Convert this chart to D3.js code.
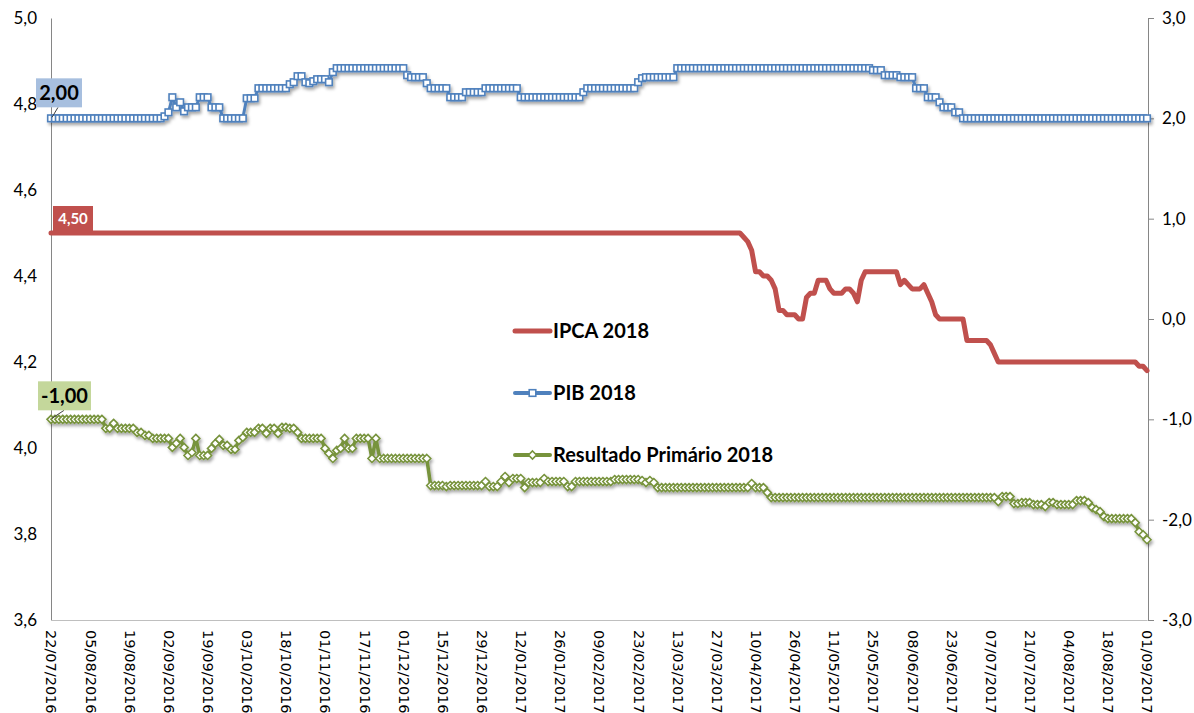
<!DOCTYPE html>
<html><head><meta charset="utf-8">
<script src="https://cdn.jsdelivr.net/npm/d3@7"></script>
<style>body{margin:0;background:#fff;} svg{display:block;font-family:Lato,"Open Sans",sans-serif}</style>
</head><body><svg id="c" width="1194" height="713"></svg>
<script>
const tickLabels = ["22/07/2016","05/08/2016","19/08/2016","02/09/2016","19/09/2016","03/10/2016","18/10/2016","01/11/2016","17/11/2016","01/12/2016","15/12/2016","29/12/2016","12/01/2017","26/01/2017","09/02/2017","23/02/2017","13/03/2017","27/03/2017","10/04/2017","26/04/2017","11/05/2017","25/05/2017","08/06/2017","23/06/2017","07/07/2017","21/07/2017","04/08/2017","18/08/2017","01/09/2017"];
const seriesNames = ["IPCA 2018","PIB 2018","Resultado Primário 2018"];
const leftTicks = [3.6,3.8,4.0,4.2,4.4,4.6,4.8,5.0];
const rightTicks = [-3,-2,-1,0,1,2,3];

const ipca = [
4.50,4.50,4.50,4.50,4.50,4.50,4.50,4.50,4.50,4.50,
4.50,4.50,4.50,4.50,4.50,4.50,4.50,4.50,4.50,4.50,
4.50,4.50,4.50,4.50,4.50,4.50,4.50,4.50,4.50,4.50,
4.50,4.50,4.50,4.50,4.50,4.50,4.50,4.50,4.50,4.50,
4.50,4.50,4.50,4.50,4.50,4.50,4.50,4.50,4.50,4.50,
4.50,4.50,4.50,4.50,4.50,4.50,4.50,4.50,4.50,4.50,
4.50,4.50,4.50,4.50,4.50,4.50,4.50,4.50,4.50,4.50,
4.50,4.50,4.50,4.50,4.50,4.50,4.50,4.50,4.50,4.50,
4.50,4.50,4.50,4.50,4.50,4.50,4.50,4.50,4.50,4.50,
4.50,4.50,4.50,4.50,4.50,4.50,4.50,4.50,4.50,4.50,
4.50,4.50,4.50,4.50,4.50,4.50,4.50,4.50,4.50,4.50,
4.50,4.50,4.50,4.50,4.50,4.50,4.50,4.50,4.50,4.50,
4.50,4.50,4.50,4.50,4.50,4.50,4.50,4.50,4.50,4.50,
4.50,4.50,4.50,4.50,4.50,4.50,4.50,4.50,4.50,4.50,
4.50,4.50,4.50,4.50,4.50,4.50,4.50,4.50,4.50,4.50,
4.50,4.50,4.50,4.50,4.50,4.50,4.50,4.50,4.50,4.50,
4.50,4.50,4.50,4.50,4.50,4.50,4.50,4.50,4.50,4.50,
4.50,4.50,4.50,4.50,4.50,4.50,4.50,4.49,4.48,4.46,
4.41,4.41,4.40,4.40,4.39,4.37,4.32,4.32,4.31,4.31,
4.31,4.30,4.30,4.35,4.36,4.36,4.39,4.39,4.39,4.37,
4.36,4.36,4.36,4.37,4.37,4.36,4.34,4.39,4.41,4.41,
4.41,4.41,4.41,4.41,4.41,4.41,4.41,4.38,4.39,4.38,
4.37,4.37,4.37,4.38,4.36,4.34,4.31,4.30,4.30,4.30,
4.30,4.30,4.30,4.30,4.25,4.25,4.25,4.25,4.25,4.25,
4.24,4.22,4.20,4.20,4.20,4.20,4.20,4.20,4.20,4.20,
4.20,4.20,4.20,4.20,4.20,4.20,4.20,4.20,4.20,4.20,
4.20,4.20,4.20,4.20,4.20,4.20,4.20,4.20,4.20,4.20,
4.20,4.20,4.20,4.20,4.20,4.20,4.20,4.20,4.19,4.19,
4.18];

const pib = [
2.00,2.00,2.00,2.00,2.00,2.00,2.00,2.00,2.00,2.00,
2.00,2.00,2.00,2.00,2.00,2.00,2.00,2.00,2.00,2.00,
2.00,2.00,2.00,2.00,2.00,2.00,2.00,2.00,2.00,2.02,
2.06,2.21,2.11,2.16,2.07,2.11,2.11,2.11,2.21,2.21,
2.21,2.11,2.11,2.11,2.00,2.00,2.00,2.00,2.00,2.00,
2.20,2.20,2.20,2.30,2.30,2.30,2.30,2.30,2.30,2.30,
2.30,2.34,2.36,2.42,2.42,2.36,2.35,2.37,2.39,2.39,
2.39,2.36,2.46,2.50,2.50,2.50,2.50,2.50,2.50,2.50,
2.50,2.50,2.50,2.50,2.50,2.50,2.50,2.50,2.50,2.50,
2.50,2.43,2.41,2.41,2.41,2.41,2.35,2.30,2.30,2.30,
2.30,2.30,2.21,2.21,2.21,2.21,2.26,2.26,2.26,2.26,
2.26,2.30,2.30,2.30,2.30,2.30,2.30,2.30,2.30,2.30,
2.21,2.21,2.21,2.21,2.21,2.21,2.21,2.21,2.21,2.21,
2.21,2.21,2.21,2.21,2.21,2.21,2.26,2.30,2.30,2.30,
2.30,2.30,2.30,2.30,2.30,2.30,2.30,2.30,2.30,2.30,
2.36,2.40,2.41,2.41,2.41,2.41,2.41,2.41,2.41,2.41,
2.50,2.50,2.50,2.50,2.50,2.50,2.50,2.50,2.50,2.50,
2.50,2.50,2.50,2.50,2.50,2.50,2.50,2.50,2.50,2.50,
2.50,2.50,2.50,2.50,2.50,2.50,2.50,2.50,2.50,2.50,
2.50,2.50,2.50,2.50,2.50,2.50,2.50,2.50,2.50,2.50,
2.50,2.50,2.50,2.50,2.50,2.50,2.50,2.50,2.50,2.50,
2.48,2.48,2.48,2.43,2.43,2.43,2.43,2.41,2.41,2.41,
2.41,2.30,2.30,2.30,2.21,2.21,2.21,2.16,2.11,2.11,
2.11,2.06,2.06,2.00,2.00,2.00,2.00,2.00,2.00,2.00,
2.00,2.00,2.00,2.00,2.00,2.00,2.00,2.00,2.00,2.00,
2.00,2.00,2.00,2.00,2.00,2.00,2.00,2.00,2.00,2.00,
2.00,2.00,2.00,2.00,2.00,2.00,2.00,2.00,2.00,2.00,
2.00,2.00,2.00,2.00,2.00,2.00,2.00,2.00,2.00,2.00,
2.00];

const primario = [
-1.00,-1.00,-1.00,-1.00,-1.00,-1.00,-1.00,-1.00,-1.00,-1.00,
-1.00,-1.00,-1.00,-1.00,-1.09,-1.09,-1.04,-1.09,-1.09,-1.09,
-1.09,-1.09,-1.13,-1.13,-1.16,-1.16,-1.19,-1.19,-1.19,-1.19,
-1.19,-1.28,-1.24,-1.19,-1.28,-1.36,-1.33,-1.19,-1.36,-1.36,
-1.36,-1.29,-1.24,-1.20,-1.26,-1.26,-1.30,-1.30,-1.21,-1.18,
-1.13,-1.13,-1.13,-1.09,-1.09,-1.14,-1.09,-1.09,-1.14,-1.08,
-1.08,-1.09,-1.09,-1.13,-1.19,-1.19,-1.19,-1.19,-1.19,-1.19,
-1.29,-1.34,-1.39,-1.31,-1.29,-1.19,-1.29,-1.29,-1.19,-1.19,
-1.19,-1.19,-1.39,-1.19,-1.39,-1.39,-1.39,-1.39,-1.39,-1.39,
-1.39,-1.39,-1.39,-1.39,-1.39,-1.39,-1.39,-1.66,-1.66,-1.66,
-1.66,-1.67,-1.66,-1.66,-1.66,-1.66,-1.66,-1.66,-1.66,-1.66,
-1.66,-1.62,-1.67,-1.67,-1.67,-1.62,-1.57,-1.63,-1.59,-1.59,
-1.59,-1.68,-1.63,-1.63,-1.63,-1.63,-1.59,-1.62,-1.62,-1.62,
-1.62,-1.62,-1.67,-1.67,-1.62,-1.62,-1.62,-1.62,-1.62,-1.62,
-1.62,-1.62,-1.62,-1.62,-1.60,-1.60,-1.60,-1.60,-1.60,-1.60,
-1.60,-1.61,-1.63,-1.61,-1.63,-1.68,-1.68,-1.68,-1.68,-1.68,
-1.68,-1.68,-1.68,-1.68,-1.68,-1.68,-1.68,-1.68,-1.68,-1.68,
-1.68,-1.68,-1.68,-1.68,-1.68,-1.68,-1.68,-1.68,-1.68,-1.64,
-1.68,-1.68,-1.68,-1.73,-1.78,-1.78,-1.78,-1.78,-1.78,-1.78,
-1.78,-1.78,-1.78,-1.78,-1.78,-1.78,-1.78,-1.78,-1.78,-1.78,
-1.78,-1.78,-1.78,-1.78,-1.78,-1.78,-1.78,-1.78,-1.78,-1.78,
-1.78,-1.78,-1.78,-1.78,-1.78,-1.78,-1.78,-1.78,-1.78,-1.78,
-1.78,-1.78,-1.78,-1.78,-1.78,-1.78,-1.78,-1.78,-1.78,-1.78,
-1.78,-1.78,-1.78,-1.78,-1.78,-1.78,-1.78,-1.78,-1.78,-1.78,
-1.78,-1.78,-1.82,-1.77,-1.77,-1.77,-1.84,-1.84,-1.83,-1.83,
-1.83,-1.85,-1.85,-1.85,-1.87,-1.83,-1.83,-1.85,-1.85,-1.85,
-1.85,-1.85,-1.81,-1.81,-1.81,-1.83,-1.88,-1.90,-1.92,-1.97,
-1.99,-1.99,-1.99,-1.99,-1.99,-1.99,-1.99,-2.03,-2.12,-2.15,
-2.20];

const colors = {ipca:"#c0504d", pib:"#4f81bd", prim:"#77933c"};
const svg = d3.select("#c");
const defs = svg.append("defs");
const f = defs.append("filter").attr("id","sh").attr("x","-5%").attr("y","-20%").attr("width","110%").attr("height","160%");
f.append("feDropShadow").attr("dx",1.5).attr("dy",2.5).attr("stdDeviation",1.5).attr("flood-color","#000").attr("flood-opacity",0.35);

const n = ipca.length;
const x = d3.scaleLinear().domain([0, n-1]).range([51, 1147]);
const yL = d3.scaleLinear().domain([3.6, 5.0]).range([620, 18]);
const yR = d3.scaleLinear().domain([-3, 3]).range([620, 18]);
const comma = (v, d) => (v < 0 ? "-" : "") + Math.abs(v).toFixed(d).replace(".", ",");

// left axis
const gL = svg.append("g").attr("transform","translate(51,0)")
  .call(d3.axisLeft(yL).tickValues(leftTicks).tickSize(0).tickPadding(14).tickFormat(d=>comma(d,1)));
gL.select(".domain").attr("stroke","#868686");
gL.selectAll("text").attr("font-size",17).attr("fill","#000").style("font-family","Lato");

// right axis
const gR = svg.append("g").attr("transform","translate(1148,0)")
  .call(d3.axisRight(yR).tickValues(rightTicks).tickSize(6).tickPadding(8).tickFormat(d=>comma(d,1)));
gR.select(".domain").attr("stroke","#868686");
gR.selectAll("line").attr("stroke","#868686");
gR.selectAll("text").attr("font-size",17).attr("fill","#000").style("font-family","Lato");

// bottom axis
const tickIdx = tickLabels.map((_, k) => k * 10);
const gB = svg.append("g").attr("transform","translate(0,620)")
  .call(d3.axisBottom(x).tickValues(tickIdx).tickSize(0).tickFormat((d,k)=>tickLabels[k]));
gB.select(".domain").attr("stroke","#bfbfbf");
gB.selectAll("text").attr("transform","rotate(90)").attr("x",10).attr("y",0).attr("dy","0.35em")
  .attr("text-anchor","start").attr("font-size",14.5).attr("fill","#000").style("font-family","'DejaVu Sans'");

const idx = d3.range(n);

// IPCA
svg.append("path").datum(idx).attr("fill","none").attr("stroke",colors.ipca).attr("stroke-width",5)
  .attr("stroke-linejoin","round").attr("stroke-linecap","round")
  .attr("d", d3.line().x(i=>x(i)).y(i=>yL(ipca[i])));

// PIB
const gP = svg.append("g").attr("filter","url(#sh)");
gP.append("path").datum(idx).attr("fill","none").attr("stroke",colors.pib).attr("stroke-width",3)
  .attr("stroke-linejoin","round").attr("d", d3.line().x(i=>x(i)).y(i=>yR(pib[i])));
gP.selectAll("rect.m").data(idx).join("rect").attr("class","m")
  .attr("x",i=>x(i)-3.3).attr("y",i=>yR(pib[i])-3.3).attr("width",6.6).attr("height",6.6)
  .attr("fill","#fff").attr("stroke",colors.pib).attr("stroke-width",1.6);

// Primario
const gG = svg.append("g").attr("filter","url(#sh)");
gG.append("path").datum(idx).attr("fill","none").attr("stroke",colors.prim).attr("stroke-width",3.5)
  .attr("stroke-linejoin","round").attr("d", d3.line().x(i=>x(i)).y(i=>yR(primario[i])));
const dia = "M0,-4L4,0L0,4L-4,0Z";
gG.selectAll("path.m").data(idx).join("path").attr("class","m")
  .attr("d",dia).attr("transform",i=>`translate(${x(i)},${yR(primario[i])})`)
  .attr("fill","#fff").attr("stroke",colors.prim).attr("stroke-width",1.6);

// data labels (first point)
function label(xc, yv, w, h, dx, dy, fill, txtColor, text, fs, leader){
  const g = svg.append("g");
  if (leader) g.append("line").attr("x1",xc+leader[0]).attr("y1",yv+leader[1]).attr("x2",xc+1).attr("y2",yv-1)
      .attr("stroke","#404040").attr("stroke-width",1);
  g.append("rect").attr("x",xc+dx).attr("y",yv+dy).attr("width",w).attr("height",h).attr("fill",fill);
  g.append("text").attr("x",xc+dx+w/2).attr("y",yv+dy+h/2).attr("dy","0.36em").attr("text-anchor","middle")
   .attr("font-size",fs).attr("font-weight","bold").attr("fill",txtColor).style("font-family","Lato").text(text);
}
label(x(0), yR(pib[0]), 46, 29, -15, -40, "#a7bfdf", "#000", comma(pib[0],2), 20, [7,-11]);
label(x(0), yL(ipca[0]), 40, 25, 2, -27, colors.ipca, "#fff", comma(ipca[0],2), 15, null);
label(x(0), yR(primario[0]), 53, 29, -13, -38, "#c4d79b", "#000", comma(primario[0],2), 20, [13,-9]);

// legend
const leg = [
  {name:seriesNames[0], color:colors.ipca, y:331, w:5, mk:null},
  {name:seriesNames[1], color:colors.pib, y:393, w:4, mk:"sq"},
  {name:seriesNames[2], color:colors.prim, y:455, w:4, mk:"dia"}
];
const gLeg = svg.append("g");
leg.forEach(d=>{
  gLeg.append("line").attr("x1",515).attr("x2",550).attr("y1",d.y).attr("y2",d.y)
    .attr("stroke",d.color).attr("stroke-width",d.w).attr("stroke-linecap","round");
  if (d.mk==="sq") gLeg.append("rect").attr("x",532.5-3.3).attr("y",d.y-3.3).attr("width",6.6).attr("height",6.6)
    .attr("fill","#fff").attr("stroke",d.color).attr("stroke-width",1.6);
  if (d.mk==="dia") gLeg.append("path").attr("d",dia).attr("transform",`translate(532.5,${d.y})`)
    .attr("fill","#fff").attr("stroke",d.color).attr("stroke-width",1.6);
  gLeg.append("text").attr("x",553).attr("y",d.y).attr("dy","0.36em").attr("font-size",20).attr("font-weight","bold")
    .attr("fill","#000").style("font-family","Lato").text(d.name);
});
</script></body></html>
